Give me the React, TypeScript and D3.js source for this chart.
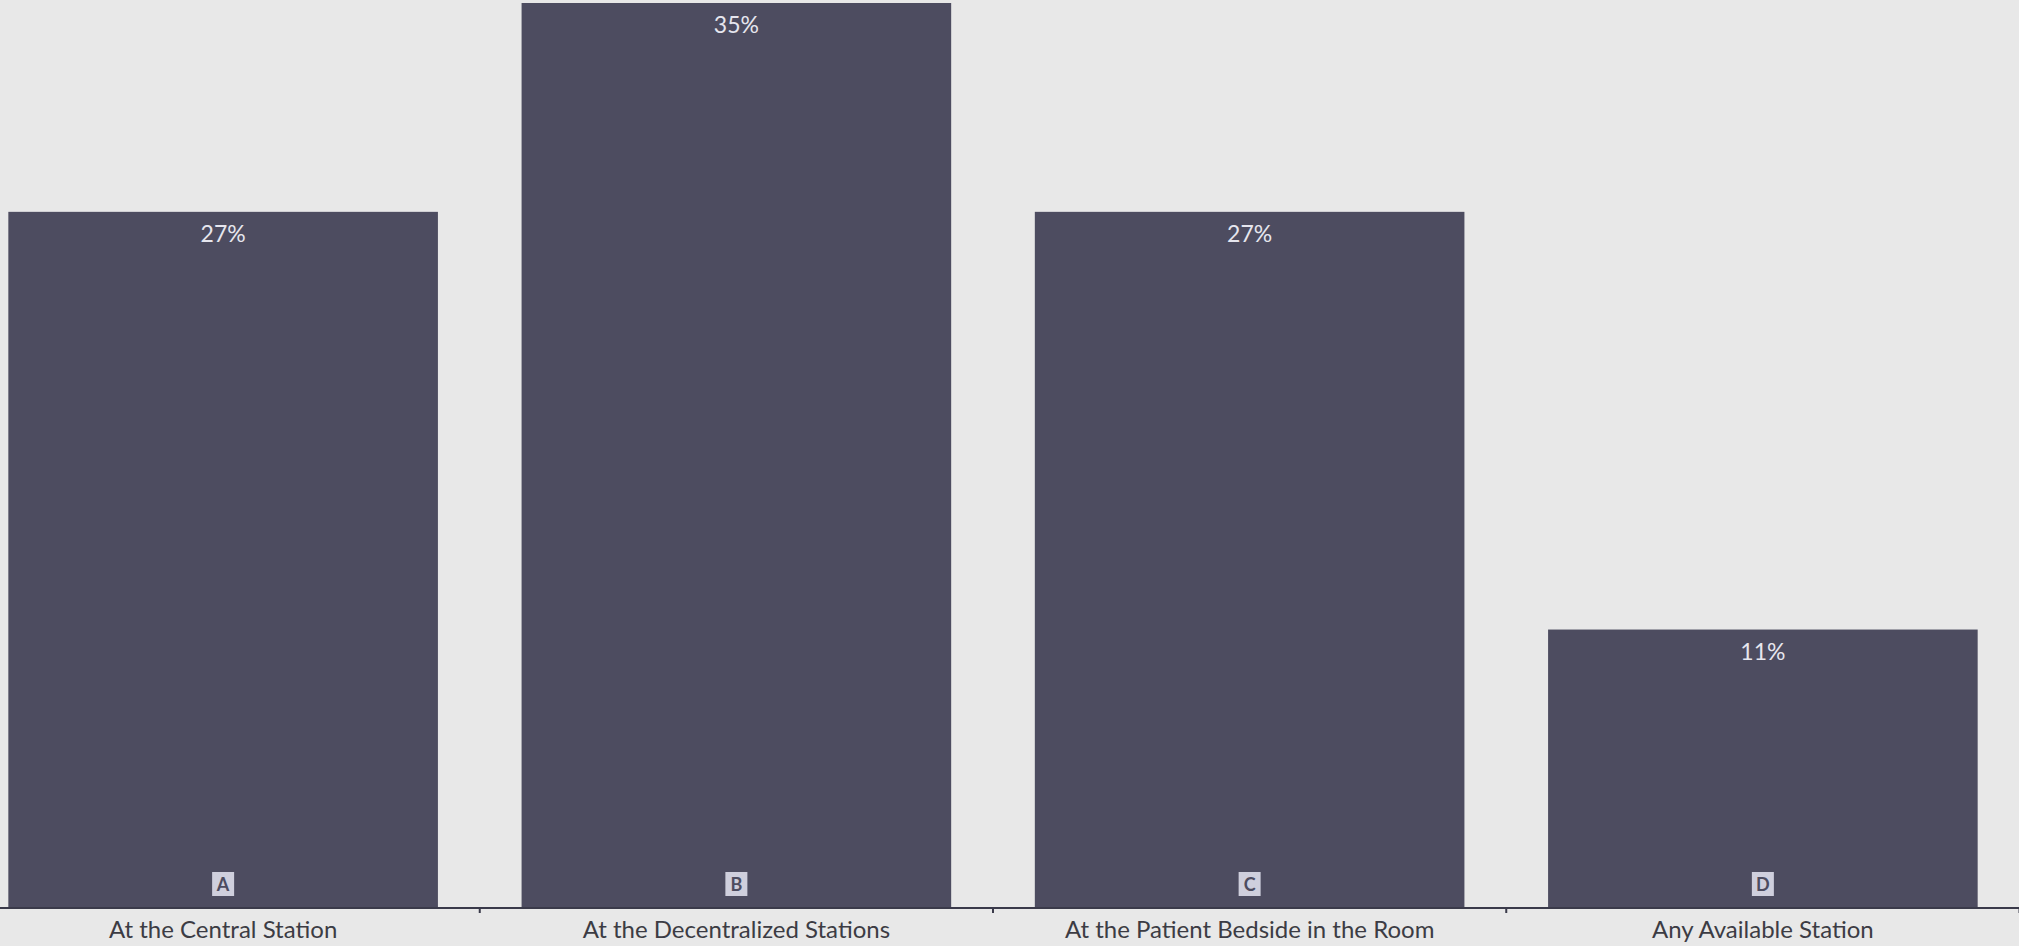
import React from "react";
import * as d3 from "d3";

const categories = ["At the Central Station", "At the Decentralized Stations", "At the Patient Bedside in the Room", "Any Available Station"];
const letters = ["A", "B", "C", "D"];
const values = [27.0, 35.1, 27.0, 10.8];
const valueLabels = ["27%", "35%", "27%", "11%"];

const W = 2019;
const H = 946;

export default function App() {
  const x = d3.scaleBand<string>().domain(categories).range([-33.5, 2019.5]).paddingInner(0.163).paddingOuter(0.0815);
  const y = d3.scaleLinear().domain([0, 35.1]).range([908, 3]);
  const step = x.step();
  const bw = x.bandwidth();
  const boundaries = categories.map((c) => (x(c) as number) + bw + (step - bw) / 2);
  const font = "'Source Sans Pro', Lato, 'Open Sans', sans-serif";
  return (
    <svg width={W} height={H} style={{ position: "absolute", left: 0, top: 0, display: "block" }}>
      <rect x={0} y={0} width={W} height={H} fill="#e8e8e8" />
      {categories.map((c, i) => {
        const bx = x(c) as number;
        const cx = bx + bw / 2;
        return (
          <g key={c}>
            <rect x={bx} y={y(values[i])} width={bw} height={y(0) - y(values[i])} fill="#4d4c60" />
            <text x={cx} y={y(values[i]) + 30} textAnchor="middle" fill="#e6e6ee" fontFamily={font} fontSize={23}>
              {valueLabels[i]}
            </text>
            <rect x={cx - 11} y={872} width={22} height={24} fill="#cfcfdd" />
            <text x={cx} y={891} textAnchor="middle" fill="#4d4c60" fontFamily={font} fontSize={18} fontWeight={700}>
              {letters[i]}
            </text>
            <text x={cx} y={938} textAnchor="middle" fill="#3c3c44" fontFamily={font} fontSize={24}>
              {c}
            </text>
          </g>
        );
      })}
      <line x1={0} x2={W} y1={y(0)} y2={y(0)} stroke="#3a3a4a" strokeWidth={2} />
      {boundaries.map((b, i) => (
        <line key={i} x1={b} x2={b} y1={y(0)} y2={y(0) + 5} stroke="#3a3a4a" strokeWidth={2} />
      ))}
    </svg>
  );
}
